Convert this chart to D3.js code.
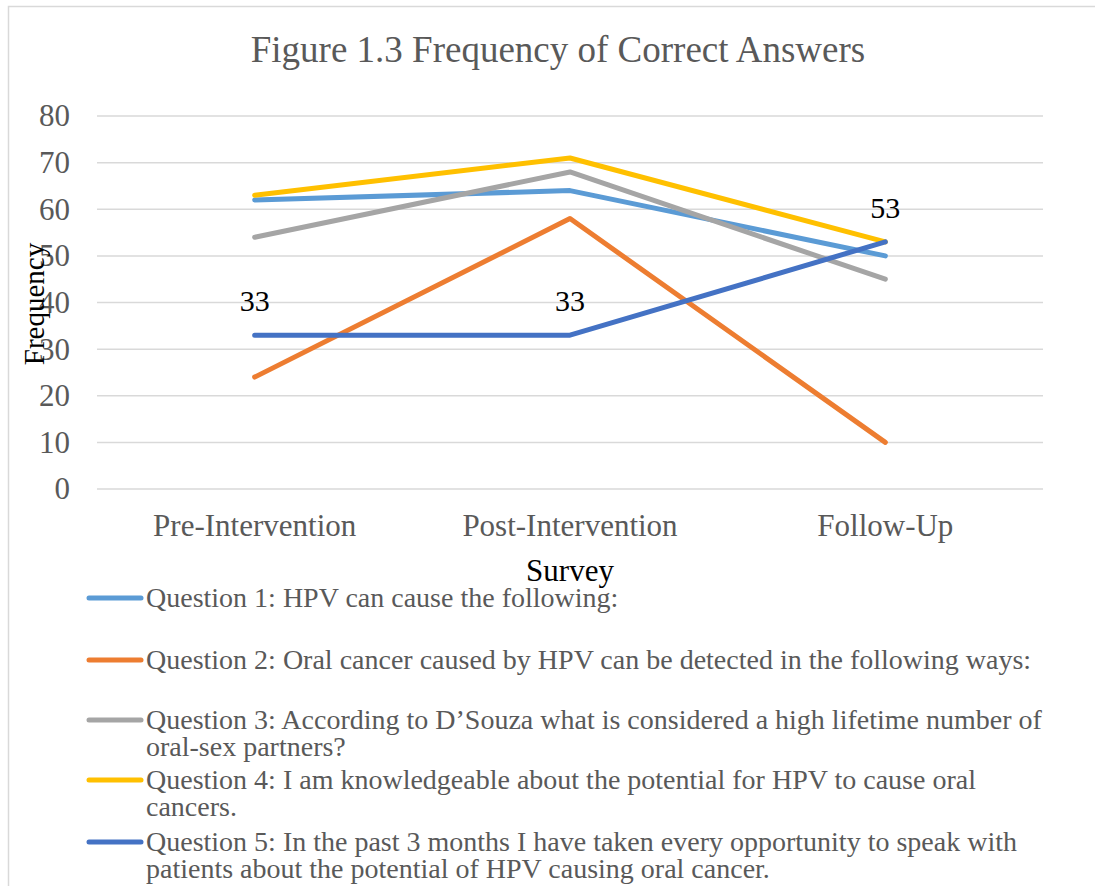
<!DOCTYPE html>
<html>
<head>
<meta charset="utf-8">
<script src="https://cdn.jsdelivr.net/npm/d3@7"></script>
<style>
  body { margin: 0; background: #fff; }
  text { font-family: "Liberation Serif", "Times New Roman", serif; }
</style>
</head>
<body>
<script>
// data
const surveys = ["Pre-Intervention", "Post-Intervention", "Follow-Up"];
const q1 = [62, 64, 50];
const q2 = [24, 58, 10];
const q3 = [54, 68, 45];
const q4 = [63, 71, 53];
const q5 = [33, 33, 53];
const yTicks = [0, 10, 20, 30, 40, 50, 60, 70, 80];
const legendLabels = [
	["Question 1: HPV can cause the following:"],
	["Question 2: Oral cancer caused by HPV can be detected in the following ways:"],
	["Question 3: According to D\u2019Souza what is considered a high lifetime number of", "oral-sex partners?"],
	["Question 4: I am knowledgeable about the potential for HPV to cause oral", "cancers."],
	["Question 5: In the past 3 months I have taken every opportunity to speak with", "patients about the potential of HPV causing oral cancer."]
];
const colors = ["#5B9BD5", "#ED7D31", "#A5A5A5", "#FFC000", "#4472C4"];

var width = 1095,
	height = 886;

var svg = d3.select("body").append("svg").attr("width", width).attr("height", height);

// chart border
svg.append("rect")
	.attr("x", 8.5).attr("y", 6.5)
	.attr("width", 1100).attr("height", 900)
	.style("fill", "none").style("stroke", "#D9D9D9").style("stroke-width", 1.5);

var plot = { left: 97, right: 1043, top: 116, bottom: 489 };

var x = d3.scaleBand().domain(surveys).range([plot.left, plot.right]);
var y = d3.scaleLinear().domain([0, 80]).range([plot.bottom, plot.top]);

// title
svg.append("text")
	.attr("x", 558).attr("y", 62)
	.attr("text-anchor", "middle")
	.style("font-size", "37px").style("fill", "#595959")
	.text("Figure 1.3 Frequency of Correct Answers");

// gridlines
svg.append("g")
	.selectAll("line")
	.data(yTicks)
	.enter()
	.append("line")
	.attr("x1", plot.left).attr("x2", plot.right)
	.attr("y1", (d) => y(d)).attr("y2", (d) => y(d))
	.style("stroke", "#D9D9D9").style("stroke-width", 1.5);

// y axis labels
var yAxis = svg.append("g")
	.attr("transform", "translate(" + (plot.left - 27) + ",0)")
	.call(d3.axisLeft(y).tickValues(yTicks).tickSize(0).tickPadding(0));
yAxis.select(".domain").remove();
yAxis.selectAll("text")
	.style("font-size", "31px").style("fill", "#595959")
	.style("font-family", "Liberation Serif, serif");

// x axis labels
var xAxis = svg.append("g")
	.attr("transform", "translate(0," + (plot.bottom + 19) + ")")
	.call(d3.axisBottom(x).tickSize(0).tickPadding(0));
xAxis.select(".domain").remove();
xAxis.selectAll("text")
	.attr("dy", "0.9em")
	.style("font-size", "31px").style("fill", "#595959")
	.style("font-family", "Liberation Serif, serif");

// axis titles
svg.append("text")
	.attr("x", 570).attr("y", 581)
	.attr("text-anchor", "middle")
	.style("font-size", "31px").style("fill", "#000")
	.text("Survey");

svg.append("text")
	.attr("transform", "translate(44,304) rotate(-90)")
	.attr("text-anchor", "middle")
	.style("font-size", "29px").style("fill", "#000")
	.text("Frequency");

// lines
var series = [q1, q2, q3, q4, q5];
var line = d3.line()
	.x((d, i) => x(surveys[i]) + x.bandwidth() / 2)
	.y((d) => y(d));

svg.append("g")
	.selectAll("path")
	.data(series)
	.enter()
	.append("path")
	.attr("d", (d) => line(d))
	.style("fill", "none")
	.style("stroke", (d, i) => colors[i])
	.style("stroke-width", 5)
	.style("stroke-linecap", "round")
	.style("stroke-linejoin", "round");

// data labels on question 5
svg.append("g")
	.selectAll("text")
	.data(q5)
	.enter()
	.append("text")
	.attr("x", (d, i) => x(surveys[i]) + x.bandwidth() / 2)
	.attr("y", (d) => y(d) - 24)
	.attr("text-anchor", "middle")
	.style("font-size", "30px").style("fill", "#000")
	.text((d) => d);

// legend
var legendY = [598, 660, 720, 780, 842];
var legend = svg.append("g")
	.selectAll("g")
	.data(legendLabels)
	.enter()
	.append("g")
	.attr("transform", (d, i) => "translate(0," + legendY[i] + ")");

legend.append("line")
	.attr("x1", 89).attr("x2", 141)
	.attr("y1", 0).attr("y2", 0)
	.style("stroke", (d, i) => colors[i])
	.style("stroke-width", 5)
	.style("stroke-linecap", "round");

legend.each(function (d) {
	var t = d3.select(this).append("text")
		.attr("x", 146).attr("y", 9)
		.style("font-size", "28px").style("fill", "#595959");
	d.forEach((s, j) => {
		t.append("tspan").attr("x", 146).attr("dy", j === 0 ? 0 : 27).text(s);
	});
});
</script>
</body>
</html>
